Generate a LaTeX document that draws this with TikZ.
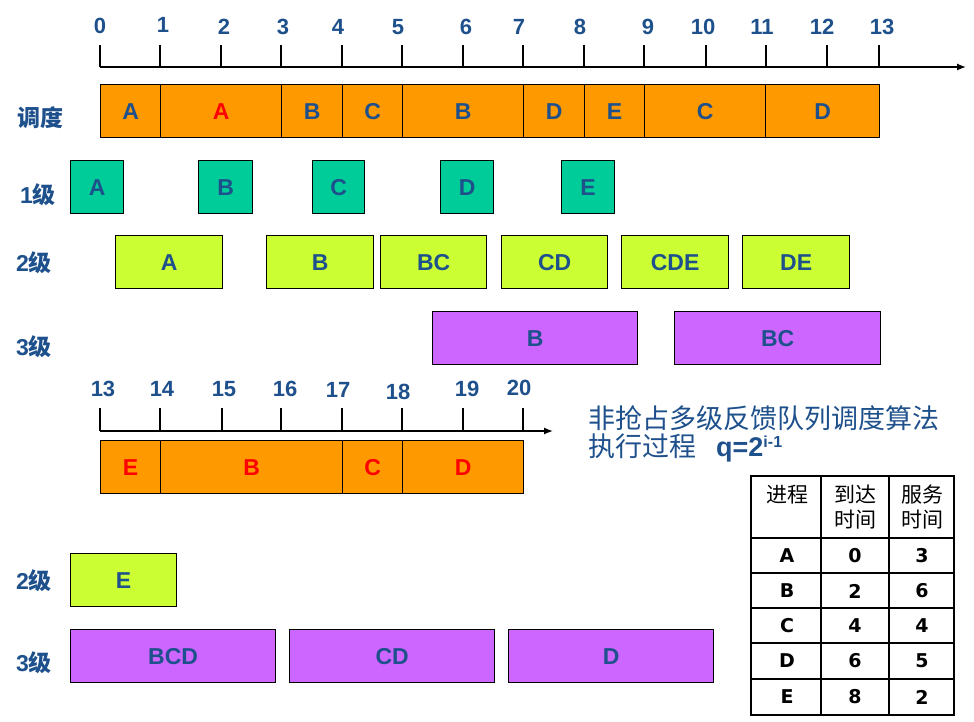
\documentclass[tikz,border=0pt]{standalone}
\usepackage{fontspec}
\setmainfont{Liberation Sans}
\newfontfamily\cjk{Noto Sans CJK SC}
\newfontfamily\dvs{DejaVu Sans}
\usetikzlibrary{arrows.meta}
\definecolor{tblue}{RGB}{30,80,140}
\definecolor{orng}{RGB}{255,153,0}
\definecolor{tealc}{RGB}{0,204,153}
\definecolor{limec}{RGB}{204,255,51}
\definecolor{purpc}{RGB}{204,102,255}
\begin{document}
\begin{tikzpicture}[x=1pt,y=-1pt,
  seg/.style args={#1/#2}{draw=black,line width=1.3pt,anchor=north west,inner sep=0pt,
    minimum width=#1pt,minimum height=#2pt,font=\bfseries\fontsize{23}{23}\selectfont,text=tblue},
  lbl/.style={inner sep=0pt,text=tblue,font=\bfseries\fontsize{23}{23}\selectfont},
  num/.style={inner sep=0pt,text=tblue,font=\bfseries\fontsize{22}{22}\selectfont},
  axisline/.style={line width=1.3pt,-{Latex[length=9pt,width=7pt]}},
  tickline/.style={line width=1.3pt},
  tbl/.style={line width=2.5pt},
  hdr/.style={inner sep=0pt,align=center,font=\cjk\fontsize{21}{25}\selectfont},
  cell/.style={inner sep=0pt,font=\dvs\bfseries\fontsize{19}{19}\selectfont}
]
\useasboundingbox (0,0) rectangle (974,722);

% ---- top axis ----
\coordinate (ax0) at (100,67);
\coordinate (ax1) at (966,67);
\draw[axisline] (ax0) -- (ax1);
\foreach \x in {100,160,221,281,342,402,463,523,584,644,706,766,827,879}
  \draw[tickline] (\x,45) -- (\x,67);
\foreach \x/\y/\t in {100/26/0,163/25/1,224/27/2,283/27/3,338/27/4,398/27/5,466/27/6,
  519/27/7,580/27/8,648/27/9,703/27/10,762/27/11,822/27/12,882/27/13}
  \node[num] (t\t) at (\x,\y) {\t};

% ---- row labels ----
\node[lbl] (l0) at (40,118) {\cjk 调度};
\node[lbl] (l1) at (38,195) {1{\cjk 级}};
\node[lbl] (l2) at (34,263) {2{\cjk 级}};
\node[lbl] (l3) at (34,347) {3{\cjk 级}};
\node[lbl] (l4) at (34,581) {2{\cjk 级}};
\node[lbl] (l5) at (34,663) {3{\cjk 级}};

% ---- schedule bar ----
\node[seg=60/53,fill=orng] (s1) at (100,84) {A};
\node[seg=121/53,fill=orng,text=red] (s2) at (160,84) {A};
\node[seg=61/53,fill=orng] (s3) at (281,84) {B};
\node[seg=60/53,fill=orng] (s4) at (342,84) {C};
\node[seg=121/53,fill=orng] (s5) at (402,84) {B};
\node[seg=61/53,fill=orng] (s6) at (523,84) {D};
\node[seg=60/53,fill=orng] (s7) at (584,84) {E};
\node[seg=121/53,fill=orng] (s8) at (644,84) {C};
\node[seg=114/53,fill=orng] (s9) at (765,84) {D};

% ---- level 1 ----
\node[seg=53/53,fill=tealc] (q1a) at (70,160) {A};
\node[seg=54/53,fill=tealc] (q1b) at (198,160) {B};
\node[seg=52/53,fill=tealc] (q1c) at (312,160) {C};
\node[seg=53/53,fill=tealc] (q1d) at (440,160) {D};
\node[seg=53/53,fill=tealc] (q1e) at (561,160) {E};

% ---- level 2 ----
\node[seg=107/53,fill=limec] (q2a) at (115,235) {A};
\node[seg=107/53,fill=limec] (q2b) at (266,235) {B};
\node[seg=106/53,fill=limec] (q2c) at (380,235) {BC};
\node[seg=106/53,fill=limec] (q2d) at (501,235) {CD};
\node[seg=107/53,fill=limec] (q2e) at (621,235) {CDE};
\node[seg=107/53,fill=limec] (q2f) at (742,235) {DE};

% ---- level 3 ----
\node[seg=205/53,fill=purpc] (q3a) at (432,311) {B};
\node[seg=206/53,fill=purpc] (q3b) at (674,311) {BC};

% ---- second axis ----
\coordinate (bx0) at (100,431);
\coordinate (bx1) at (553,431);
\draw[axisline] (bx0) -- (bx1);
\foreach \x in {100,160,222,281,342,402,463,523}
  \draw[tickline] (\x,408) -- (\x,431);
\foreach \x/\y/\t in {103/389/13,162/389/14,224/389/15,285/389/16,338/390/17,
  398/392/18,467/389/19,519/388/20}
  \node[num] (u\t) at (\x,\y) {\t};

% ---- second schedule bar ----
\node[seg=60/53,fill=orng,text=red] (r1) at (100,440) {E};
\node[seg=182/53,fill=orng,text=red] (r2) at (160,440) {B};
\node[seg=60/53,fill=orng,text=red] (r3) at (342,440) {C};
\node[seg=121/53,fill=orng,text=red] (r4) at (402,440) {D};

% ---- lower queues ----
\node[seg=106/53,fill=limec] (p2a) at (70,553) {E};
\node[seg=205/53,fill=purpc] (p3a) at (70,629) {BCD};
\node[seg=205/53,fill=purpc] (p3b) at (289,629) {CD};
\node[seg=205/53,fill=purpc] (p3c) at (508,629) {D};

% ---- title ----
\node[anchor=west,inner sep=0pt,text=tblue,font=\cjk\fontsize{27}{27}\selectfont] (title1) at (588,418) {非抢占多级反馈队列调度算法};
\node[anchor=west,inner sep=0pt,text=tblue,font=\cjk\fontsize{27}{27}\selectfont] (title2) at (588,448)
  {执行过程\hspace{20pt}{\rmfamily\bfseries q=2\raisebox{9pt}{\fontsize{16}{16}\selectfont i-1}}};

% ---- table ----
\draw[tbl] (751,476) rectangle (954,715);
\draw[tbl] (821,476) -- (821,715);
\draw[tbl] (889,476) -- (889,715);
\foreach \y in {538,573,608,643,679}
  \draw[tbl] (751,\y) -- (954,\y);
\node[hdr] (h1) at (787,495) {进程};
\node[hdr] (h2) at (855,507.5) {到达\\时间};
\node[hdr] (h3) at (922,507.5) {服务\\时间};
\foreach \y/\p/\a/\s [count=\i] in {556/A/0/3,591/B/2/6,626/C/4/4,661/D/6/5,697/E/8/2} {
  \node[cell] (c\i p) at (787,\y) {\p};
  \node[cell] (c\i a) at (855,\y) {\a};
  \node[cell] (c\i s) at (922,\y) {\s};
}
\end{tikzpicture}
\end{document}
